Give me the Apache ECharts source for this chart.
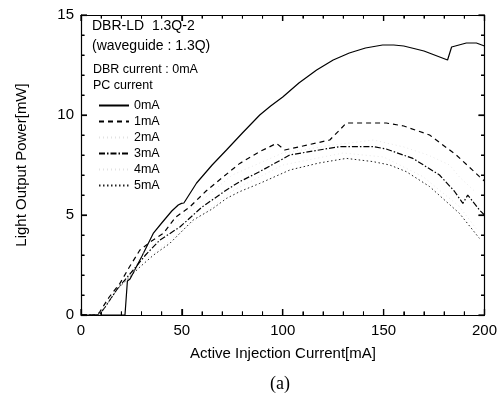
<!DOCTYPE html>
<html><head><meta charset="utf-8">
<script src="https://cdn.jsdelivr.net/npm/echarts@6/dist/echarts.min.js"></script>
<style>html,body{margin:0;padding:0;background:#fff}#c{width:500px;height:405px}</style>
</head><body><div id="c"></div>
<script>
const seriesNames = ['0mA','1mA','2mA','3mA','4mA','5mA'];
const pc0 = [[0,0],[21.8,0],[23,1.7],[24.3,1.8],[30,2.9],[35.8,4.08],[40,4.6],[45,5.2],[48.2,5.5],[49.8,5.58],[51,5.6],[57.3,6.6],[65,7.5],[72.1,8.25],[80,9.1],[88.6,10.0],[94,10.45],[100,10.9],[108,11.6],[116.8,12.25],[125,12.75],[133,13.1],[141,13.35],[149.5,13.5],[155,13.5],[160,13.45],[170,13.2],[181.7,12.75],[183.7,13.4],[191,13.6],[196,13.6],[200,13.45]];
const pc1 = [[0,0],[8,0],[9.4,0.17],[14,0.9],[19.3,1.58],[24,2.4],[29.2,3.25],[35,3.7],[40.8,4.08],[47,4.9],[53.9,5.4],[62,6.2],[70.4,6.9],[78.7,7.58],[88.6,8.17],[96.9,8.58],[101,8.25],[110,8.45],[123.3,8.75],[128.2,9.25],[131.5,9.6],[151.3,9.6],[160,9.45],[172.8,9.0],[186,8.0],[197.5,6.92],[200,6.7]];
const pc2 = [[9,0],[20,1.5],[30,3.0],[50,4.9],[75,7.0],[100,8.1],[125,8.5],[145,8.75],[160,8.4],[172,8.0],[182.7,7.5],[187.6,6.9],[195,6.2]];
const pc3 = [[0,0],[9,0],[12,0.4],[18,1.3],[25.9,2.25],[32,3.0],[39.1,3.75],[49,4.4],[60,5.4],[72.1,6.25],[78.7,6.67],[88.6,7.17],[103.5,8.0],[115,8.2],[128.2,8.42],[144.7,8.42],[151.3,8.3],[164.5,7.83],[177.7,7.0],[185,6.2],[189.3,5.58],[191.7,6.0],[197.5,5.25],[200,5.0]];
const pc4 = [[9,0],[20,1.5],[30,2.6],[50,4.2],[75,6.2],[100,7.5],[130,8.1],[150,7.9],[169.5,6.92],[187.6,5.42],[195.8,4.33]];
const pc5 = [[0,0],[9,0],[12,0.4],[18,1.3],[29.2,2.4],[36,3.0],[44,3.58],[55.6,4.75],[65,5.3],[72.1,5.83],[78.7,6.17],[88.6,6.58],[103.5,7.25],[118,7.6],[131.5,7.83],[144.7,7.67],[153,7.5],[161.2,7.17],[172.8,6.42],[187.6,5.08],[197.5,3.83]];
const xTicks = [0,50,100,150,200];
const yTicks = [0,5,10,15];
const xMinorTicks = [10,20,30,40,60,70,80,90,110,120,130,140,160,170,180,190];
const yMinorTicks = [1,2,3,4,6,7,8,9,11,12,13,14];

const FONT = 'Liberation Sans, Arial, sans-serif';
const GRID = {left:81, right:15, top:15, bottom:90};
const PLOT_W = 500 - GRID.left - GRID.right, PLOT_H = 405 - GRID.top - GRID.bottom;
const X_MIN = 0, X_MAX = 200, Y_MIN = 0, Y_MAX = 15;
const MAJ = 6, MIN = 3.5;
const pxX = PLOT_W / (X_MAX - X_MIN), pxY = PLOT_H / (Y_MAX - Y_MIN);

const datas = [pc0,pc1,pc2,pc3,pc4,pc5];
const styles = [
  {color:'#000', width:1.2, type:'solid'},
  {color:'#000', width:1.2, type:[5,4]},
  {color:'#e2e2e2', width:0.8, type:[1,3]},
  {color:'#000', width:1.2, type:[6,2,1.5,2]},
  {color:'#e2e2e2', width:0.8, type:[1,3]},
  {color:'#222', width:1.0, type:[1.5,2.5]}
];

// tick segments as short line series (inward ticks on all four sides)
const tickSeries = [];
function addTick(pts, w){
  tickSeries.push({type:'line', data:pts, symbol:'none', silent:true, clip:false,
    lineStyle:{color:'#000', width:w, type:'solid'}, z:4, tooltip:{show:false}});
}
[[xTicks,MAJ,1.2],[xMinorTicks,MIN,1]].forEach(([arr,len,w])=>arr.forEach(v=>{
  addTick([[v,Y_MIN],[v,Y_MIN+len/pxY]], w);
  addTick([[v,Y_MAX],[v,Y_MAX-len/pxY]], w);
}));
[[yTicks,MAJ,1.2],[yMinorTicks,MIN,1]].forEach(([arr,len,w])=>arr.forEach(v=>{
  addTick([[X_MIN,v],[X_MIN+len/pxX,v]], w);
  addTick([[X_MAX,v],[X_MAX-len/pxX,v]], w);
}));

function tick(){ return {show:true, inside:true, length:MAJ, lineStyle:{color:'#000', width:1.2}}; }
function minor(){ return {show:true, splitNumber:5, length:MIN, lineStyle:{color:'#000', width:1}}; }
function line(){ return {show:true, onZero:false, lineStyle:{color:'#000', width:1.2}}; }

const chart = echarts.init(document.getElementById('c'));
chart.setOption({
  animation:false,
  grid:GRID,
  legend:{
    orient:'vertical', left:93, top:94, itemWidth:30, itemHeight:14, itemGap:3,
    itemStyle:{opacity:0},
    textStyle:{fontFamily:FONT, fontSize:12.5, color:'#000'},
    data:seriesNames
  },
  xAxis:[{
    type:'value', min:X_MIN, max:X_MAX, interval:50, position:'bottom',
    axisLine:line(), axisTick:tick(), minorTick:minor(), splitLine:{show:false},
    axisLabel:{fontFamily:FONT, fontSize:15, color:'#000', margin:8}
  },{
    type:'value', min:X_MIN, max:X_MAX, interval:50, position:'top',
    axisLine:line(), axisTick:tick(), minorTick:minor(), splitLine:{show:false}, axisLabel:{show:false}
  }],
  yAxis:[{
    type:'value', min:Y_MIN, max:Y_MAX, interval:5, position:'left',
    axisLine:line(), axisTick:tick(), minorTick:minor(), splitLine:{show:false},
    axisLabel:{fontFamily:FONT, fontSize:15, color:'#000', margin:7}
  },{
    type:'value', min:Y_MIN, max:Y_MAX, interval:5, position:'right',
    axisLine:line(), axisTick:tick(), minorTick:minor(), splitLine:{show:false}, axisLabel:{show:false}
  }],
  series: seriesNames.map((n,i)=>({
    name:n, type:'line', data:datas[i], xAxisIndex:0, yAxisIndex:0,
    showSymbol:false, symbol:'none', smooth:false,
    lineStyle:{color:styles[i].color, width:styles[i].width, type:styles[i].type},
    itemStyle:{color:styles[i].color}
  })).concat(tickSeries),
  graphic:[
    {type:'text', left:92, top:19, style:{text:'DBR-LD  1.3Q-2', font:'14px '+FONT, fill:'#000'}},
    {type:'text', left:92, top:39, style:{text:'(waveguide : 1.3Q)', font:'14px '+FONT, fill:'#000'}},
    {type:'text', left:93, top:63, style:{text:'DBR current : 0mA', font:'12.5px '+FONT, fill:'#000'}},
    {type:'text', left:93, top:79, style:{text:'PC current', font:'12.5px '+FONT, fill:'#000'}},
    {type:'text', x:283, y:354, style:{text:'Active Injection Current[mA]', font:'15px '+FONT, fill:'#000', align:'center', verticalAlign:'middle'}},
    {type:'text', x:22, y:165, rotation:Math.PI/2, style:{text:'Light Output Power[mW]', font:'15px '+FONT, fill:'#000', align:'center', verticalAlign:'middle'}},
    {type:'text', left:270, top:375, style:{text:'(a)', font:'18px Liberation Serif, Times New Roman, serif', fill:'#000'}}
  ]
});
</script></body></html>
